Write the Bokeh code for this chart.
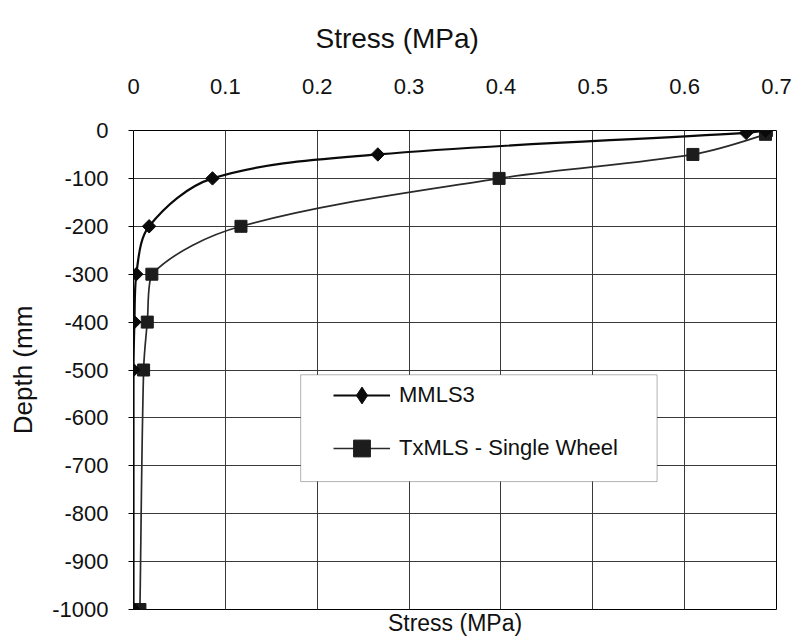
from bokeh.plotting import figure
from bokeh.models import (FixedTicker, LinearAxis, Legend, LegendItem, BoxAnnotation, Range1d,
                          ColumnDataSource, Title, PrintfTickFormatter)
from bokeh.embed import file_html
from bokeh.resources import INLINE
import numpy as np

# ---------------- data ----------------
stress_ticks = [0, 0.1, 0.2, 0.3, 0.4, 0.5, 0.6, 0.7]
depth_ticks = [0, -100, -200, -300, -400, -500, -600, -700, -800, -900, -1000]

mmls3_depth = [0, -5, -50, -100, -200, -300, -400, -500, -1000]
mmls3_stress = [0.688, 0.667, 0.266, 0.086, 0.017, 0.003, 0.001, 0.0, 0.0]

txmls_depth = [0, -8, -50, -100, -200, -300, -400, -500, -1000]
txmls_stress = [0.689, 0.688, 0.609, 0.398, 0.117, 0.020, 0.015, 0.011, 0.007]

series_names = ["MMLS3", "TxMLS - Single Wheel"]
chart_title = "Stress (MPa)"

# legend frame (data coordinates)
LEGEND_BOX = dict(left=0.182, right=0.570, top=-510, bottom=-733)

FONT = "Liberation Sans"
TXT = "#111111"

# approximate pixel scale of the plot frame (used only to shape the smoothing)
PX_PER_STRESS = 642 / 0.7
PX_PER_DEPTH = 479 / 1000


def smooth_segments(xs, ys):
    """Cubic Bezier segments through the data points (smoothed line, like a spreadsheet chart)."""
    P = np.column_stack([np.asarray(xs, float) * PX_PER_STRESS,
                         np.asarray(ys, float) * PX_PER_DEPTH])
    n = len(P)
    seg_len = np.hypot(*(P[1:] - P[:-1]).T)
    tang = []
    for i in range(n):
        a = P[i - 1] if i > 0 else P[i]
        b = P[i + 1] if i < n - 1 else P[i]
        la = seg_len[i - 1] if i > 0 else 0.0
        lb = seg_len[i] if i < n - 1 else 0.0
        tang.append((b - a) / max(la + lb, 1e-9))
    d = dict(x0=[], y0=[], x1=[], y1=[], cx0=[], cy0=[], cx1=[], cy1=[])
    for i in range(n - 1):
        p1, p2 = P[i], P[i + 1]
        L = seg_len[i]
        lo, hi = np.minimum(p1, p2), np.maximum(p1, p2)
        c1 = np.clip(p1 + tang[i] * L / 3.0, lo, hi)
        c2 = np.clip(p2 - tang[i + 1] * L / 3.0, lo, hi)
        d["x0"].append(p1[0] / PX_PER_STRESS); d["y0"].append(p1[1] / PX_PER_DEPTH)
        d["x1"].append(p2[0] / PX_PER_STRESS); d["y1"].append(p2[1] / PX_PER_DEPTH)
        d["cx0"].append(c1[0] / PX_PER_STRESS); d["cy0"].append(c1[1] / PX_PER_DEPTH)
        d["cx1"].append(c2[0] / PX_PER_STRESS); d["cy1"].append(c2[1] / PX_PER_DEPTH)
    return ColumnDataSource(d)


p = figure(width=795, height=638, output_backend="svg", toolbar_location=None,
           x_axis_location="above",
           x_range=Range1d(0, 0.7), y_range=Range1d(-1000, 0),
           min_border_left=133, min_border_right=19, min_border_top=130, min_border_bottom=29)
p.background_fill_color = "white"
p.border_fill_color = "white"
p.outline_line_color = "black"
p.outline_line_width = 1

# chart title (placed over the whole chart, left of the frame centre)
p.title = Title(text=chart_title, align="left", offset=182, vertical_align="top",
                text_font=FONT, text_font_size="28px", text_font_style="normal",
                text_color=TXT, standoff=39)

# top axis
xa = p.xaxis[0]
xa.ticker = FixedTicker(ticks=stress_ticks)
xa.major_label_text_font = FONT
xa.major_label_text_font_size = "22px"
xa.major_label_text_color = TXT
xa.major_label_standoff = 37
xa.major_tick_out = 0
xa.major_tick_in = 0
xa.minor_tick_line_color = None
xa.axis_line_color = None

# left axis
ya = p.yaxis[0]
ya.ticker = FixedTicker(ticks=depth_ticks)
ya.formatter = PrintfTickFormatter(format="%d")
ya.axis_label = "Depth (mm"
ya.axis_label_text_font = FONT
ya.axis_label_text_font_size = "26px"
ya.axis_label_text_font_style = "normal"
ya.axis_label_text_color = TXT
ya.axis_label_standoff = 11
ya.major_label_text_font = FONT
ya.major_label_text_font_size = "22px"
ya.major_label_text_color = TXT
ya.major_label_standoff = 20
ya.major_tick_out = 5
ya.major_tick_in = 0
ya.major_tick_line_color = "black"
ya.minor_tick_line_color = None
ya.axis_line_color = None

# bottom axis (label only)
xb = LinearAxis(axis_label="Stress (MPa)", ticker=FixedTicker(ticks=[]),
                axis_line_color=None, major_tick_line_color=None, minor_tick_line_color=None,
                major_label_text_font_size="0px", axis_label_standoff=0,
                axis_label_text_font=FONT, axis_label_text_font_size="23px",
                axis_label_text_font_style="normal", axis_label_text_color=TXT)
p.add_layout(xb, "below")

# grid
p.xgrid.ticker = FixedTicker(ticks=stress_ticks)
p.ygrid.ticker = FixedTicker(ticks=depth_ticks)
for g in (p.xgrid, p.ygrid):
    g.grid_line_color = "#3a3a3a"
    g.grid_line_width = 1
    g.grid_line_alpha = 1

# series
m_curve = p.bezier(x0="x0", y0="y0", x1="x1", y1="y1", cx0="cx0", cy0="cy0", cx1="cx1", cy1="cy1",
                   source=smooth_segments(mmls3_stress, mmls3_depth), line_color="#0a0a0a", line_width=2.2)
t_curve = p.bezier(x0="x0", y0="y0", x1="x1", y1="y1", cx0="cx0", cy0="cy0", cx1="cx1", cy1="cy1",
                   source=smooth_segments(txmls_stress, txmls_depth), line_color="#2a2a2a", line_width=1.7)
t_pts = p.scatter(x=txmls_stress, y=txmls_depth, marker="square", size=12,
                  fill_color="#1c1c1c", line_color="#1c1c1c")
m_pts = p.scatter(x=mmls3_stress, y=mmls3_depth, marker="square", angle=np.pi / 4, size=9.5,
                  fill_color="#0a0a0a", line_color="#0a0a0a")
# legend key for MMLS3 (diamond shape; zero size on the plot itself)
m_key = p.scatter(x=mmls3_stress, y=mmls3_depth, marker="diamond", size=0,
                  fill_color="#0a0a0a", line_color="#0a0a0a")

# legend
box = BoxAnnotation(fill_color="white", fill_alpha=1, line_color="black", line_width=1,
                    **LEGEND_BOX)
p.add_layout(box)
legend = Legend(items=[LegendItem(label=series_names[0], renderers=[m_curve, m_key]),
                       LegendItem(label=series_names[1], renderers=[t_curve, t_pts])],
                location=(200, 140), padding=0, margin=0, spacing=11,
                glyph_width=57, glyph_height=42, label_height=42, label_standoff=9,
                border_line_alpha=0, background_fill_alpha=0,
                label_text_font=FONT, label_text_font_size="22px", label_text_color=TXT)
p.add_layout(legend)

open("out.html", "w").write(file_html(p, INLINE))
